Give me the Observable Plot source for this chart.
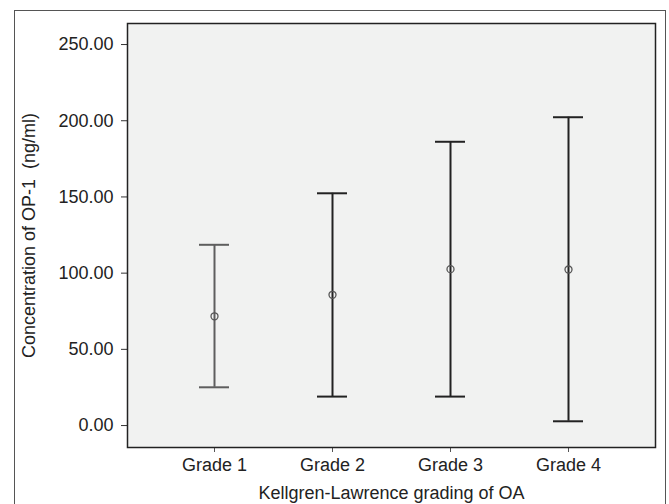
<!DOCTYPE html>
<html>
<head>
<meta charset="utf-8">
<script src="https://cdn.jsdelivr.net/npm/d3@7"></script>
<script src="https://cdn.jsdelivr.net/npm/@observablehq/plot@0.6"></script>
<style>
  html, body { margin: 0; padding: 0; background: #fff; overflow: hidden; }
  #wrap { position: relative; width: 669px; height: 504px; }
  #box { position: absolute; left: 14px; top: 10px; width: 652px; height: 520px; border: 1px solid #555; box-sizing: border-box; pointer-events: none; }
  #chart { position: absolute; left: 0; top: 0; }
</style>
</head>
<body>
<div id="wrap"><div id="chart"></div><div id="box"></div></div>
<script>
const grades = ["Grade 1", "Grade 2", "Grade 3", "Grade 4"];
const means = [71.7, 85.8, 102.6, 102.4];
const lower = [25.1, 19.0, 19.0, 2.8];
const upper = [118.6, 152.4, 186.2, 202.3];
const yTicks = [0, 50, 100, 150, 200, 250];
const yLabel = "Concentration of OP-1  (ng/ml)";
const xLabel = "Kellgren-Lawrence grading of OA";

const data = grades.map((g, i) => ({grade: g, mean: means[i], lo: lower[i], hi: upper[i]}));
const barColor = d => d.grade === "Grade 1" ? "#5e5e5e" : "#222";

const chart = Plot.plot({
  width: 669,
  height: 504,
  marginLeft: 127,
  marginRight: 14,
  marginTop: 23,
  marginBottom: 57,
  style: {fontFamily: "'Liberation Sans', Arial, sans-serif", fontSize: "18px", color: "#222", background: "transparent", overflow: "visible"},
  x: {type: "band", domain: grades, paddingInner: 0.747, paddingOuter: 0.5975, label: null},
  y: {domain: [-14.4, 263.8], label: null},
  marks: [
    Plot.frame({fill: "#f1f2f1", stroke: "none"}),
    Plot.axisY({ticks: yTicks, tickFormat: d => d.toFixed(2), tickSize: 6, tickPadding: 8, label: null, stroke: "#333"}),
    Plot.axisX({tickSize: 5, tickPadding: 6, label: null, stroke: "#555"}),
    Plot.ruleX(data, {x: "grade", y1: "lo", y2: "hi", stroke: barColor, strokeWidth: 2}),
    Plot.tickY(data, {x: "grade", y: "lo", stroke: barColor, strokeWidth: 2}),
    Plot.tickY(data, {x: "grade", y: "hi", stroke: barColor, strokeWidth: 2}),
    Plot.dot(data, {x: "grade", y: "mean", r: 3.5, stroke: "#555", fill: "none", strokeWidth: 1.3}),
    Plot.frame({stroke: "#222", strokeWidth: 1.5}),
    Plot.text([yLabel], {frameAnchor: "left", dx: -98, rotate: -90, textAnchor: "middle", lineAnchor: "middle", fontSize: 18, fill: "#222"}),
    Plot.text([xLabel], {frameAnchor: "bottom", dy: 46, textAnchor: "middle", lineAnchor: "middle", fontSize: 18, fill: "#222"})
  ]
});
document.getElementById("chart").appendChild(chart);
</script>
</body>
</html>
